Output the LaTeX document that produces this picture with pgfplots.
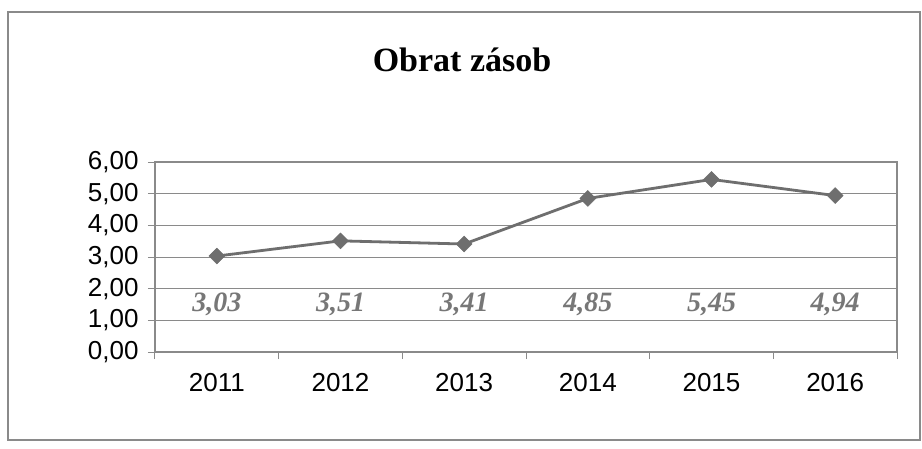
\documentclass[border=0pt]{standalone}
\usepackage{fontspec}
\setmainfont{Liberation Serif}
\newfontfamily\arial{Liberation Sans}
\usepackage{pgfplots}
\pgfplotsset{compat=1.18}

\definecolor{linegray}{HTML}{6E6E6E}
\definecolor{gridgray}{HTML}{8A8A8A}
\definecolor{labgray}{HTML}{777777}

\begin{document}
\begin{tikzpicture}
% page size and outer frame
\path[fill=white] (-155bp,-97bp) rectangle (767bp,352bp);
\draw[gridgray, line width=1.2bp] (-147bp,-88bp) rectangle (765bp,340bp);
\node[font=\fontsize{34bp}{38bp}\selectfont\bfseries] at (307bp,292bp) {Obrat zásob};
\begin{axis}[
    at={(0,0)}, anchor=south west,
    scale only axis,
    width=742bp, height=190bp,
    xmin=-0.5, xmax=5.5,
    ymin=0, ymax=6,
    xtick={0,1,2,3,4,5},
    xticklabels={2011,2012,2013,2014,2015,2016},
    minor xtick={-0.5,0.5,1.5,2.5,3.5,4.5,5.5},
    ytick={0,1,2,3,4,5,6},
    xtick pos=bottom, ytick pos=left,
    major x tick style={draw=none},
    tick align=outside,
    major tick length=7bp,
    minor tick length=7bp,
    tick style={gridgray, line width=1bp},
    ymajorgrids=true,
    grid style={gridgray, line width=1bp},
    axis line style={gridgray, line width=1.2bp},
    /pgf/number format/.cd, fixed, fixed zerofill, precision=2, use comma, assume math mode=true,
    /pgfplots/.cd,
    ticklabel style={font=\arial\fontsize{26bp}{30bp}\selectfont},
    yticklabel style={xshift=-6bp},
    xticklabel style={yshift=-11bp},
    clip=false,
]
\addplot[linegray, line width=2.8bp, mark=square*, mark size=5.6bp,
    mark options={fill=linegray, draw=linegray, line width=0.5bp, rotate=45}]
    coordinates {(0,3.03)(1,3.51)(2,3.41)(3,4.85)(4,5.45)(5,4.94)};
\addplot[draw=none, nodes near coords, point meta=explicit symbolic,
    every node near coord/.style={anchor=center, text=labgray,
      font=\fontsize{28bp}{30bp}\selectfont\bfseries\itshape}]
    coordinates {(0,1.5)[3,03] (1,1.5)[3,51] (2,1.5)[3,41] (3,1.5)[4,85] (4,1.5)[5,45] (5,1.5)[4,94]};
\end{axis}
\end{tikzpicture}
\end{document}
